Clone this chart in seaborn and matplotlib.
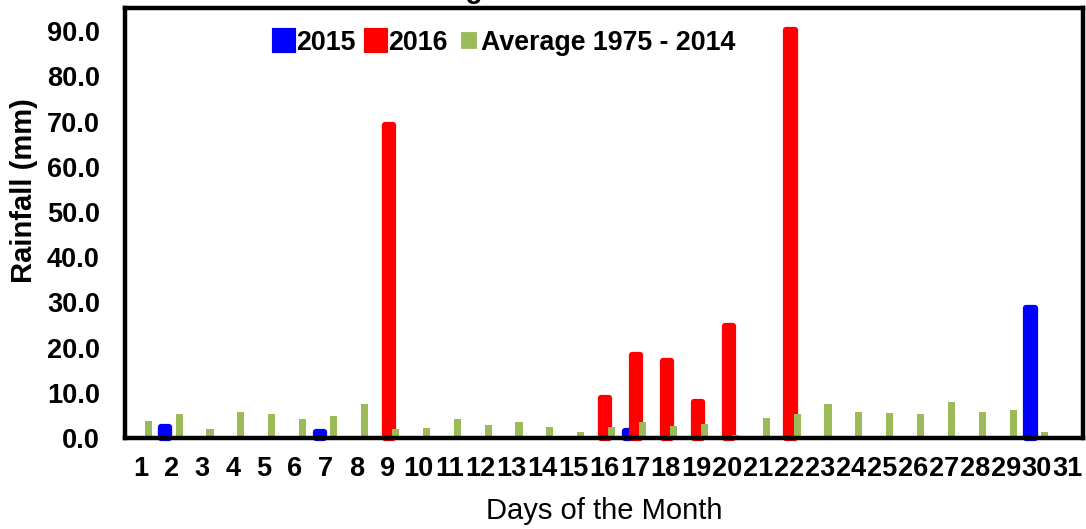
import matplotlib
matplotlib.use("Agg")
import matplotlib.pyplot as plt
from matplotlib.patches import Patch
import numpy as np
import pandas as pd
import seaborn as sns

# data (mm per day)
days = list(range(1, 32))
rain_2015 = [0, 2.4, 0, 0, 0, 0, 1.3, 0, 0, 0, 0, 0, 0, 0, 0, 0,
             1.5, 0, 0, 0, 0, 0, 0, 0, 0, 0, 0, 0, 0, 28.8, 0]
rain_2016 = [0, 0, 0, 0, 0, 0, 0, 0, 69.2, 0, 0, 0, 0, 0, 0, 8.8,
             18.4, 17.0, 7.9, 24.8, 0, 90.3, 0, 0, 0, 0, 0, 0, 0, 0, 0]
avg_1975_2014 = [3.8, 5.2, 2.1, 5.8, 5.3, 4.3, 4.9, 7.6, 2.0, 2.3, 4.3, 2.9,
                 3.6, 2.5, 1.3, 2.5, 3.6, 2.7, 3.2, 0.7, 4.5, 5.2, 7.5, 5.8,
                 5.5, 5.3, 8.0, 5.8, 6.2, 1.3, 0]
series_labels = ["2015", "2016", "Average 1975 - 2014"]
colors = ["#0000FF", "#FF0000", "#9BBB59"]

df = pd.DataFrame({"day": days, "2015": rain_2015, "2016": rain_2016,
                   "avg": avg_1975_2014})

sns.set_style("white")
plt.rcParams["font.family"] = ["Liberation Sans", "DejaVu Sans"]
plt.rcParams["text.color"] = "black"
plt.rcParams["axes.labelcolor"] = "black"
plt.rcParams["xtick.color"] = "black"
plt.rcParams["ytick.color"] = "black"

fig = plt.figure(figsize=(10.86, 5.29), dpi=100)
ax = fig.add_axes([0.1151, 0.172, 0.8821, 0.812])

# 2015 and 2016 overlap, average sits to the right (excel-like overlap)
sns.barplot(x=df["day"] - 0.2, y=df["2015"], native_scale=True, width=0.27,
            color=colors[0], edgecolor=colors[0], linewidth=4.5,
            joinstyle="round", saturation=1, ax=ax, zorder=2)
sns.barplot(x=df["day"] + 0.04, y=df["2016"], native_scale=True, width=0.27,
            color=colors[1], edgecolor=colors[1], linewidth=4.5,
            joinstyle="round", saturation=1, ax=ax, zorder=2)
sns.barplot(x=df["day"] + 0.25, y=df["avg"], native_scale=True, width=0.23,
            color=colors[2], linewidth=0, saturation=1, ax=ax, zorder=3)

# hide empty days
for p in ax.patches:
    if p.get_height() == 0:
        p.set_visible(False)
    p.set_clip_on(False)

ax.set_xlim(0.5, 31.5)
ax.set_ylim(0, 95.0)
ax.set_yticks(np.arange(0, 91, 10))
ax.set_yticklabels([f"{v:.1f}" for v in np.arange(0, 91, 10)],
                   fontsize=19.5, fontweight="bold")
ax.set_xticks(days)
ax.set_xticklabels([str(d) for d in days], fontsize=19.5, fontweight="bold")
ax.set_xticks(np.arange(0.5, 32, 1), minor=True)
ax.tick_params(axis="x", which="major", length=0, pad=13)
ax.tick_params(axis="x", which="minor", length=6, width=1, color="#888888",
               direction="out")
ax.tick_params(axis="y", length=6, width=1, color="#888888",
               direction="out", pad=12)

for s in ax.spines.values():
    s.set_visible(True)
    s.set_linewidth(3.2)
    s.set_color("black")
    s.set_zorder(5)

ax.set_xlabel("Days of the Month", fontsize=21, labelpad=11)
ax.set_ylabel("Rainfall (mm)", fontsize=21, fontweight="bold")
ax.yaxis.set_label_coords(-0.091, 0.575)

handles = [Patch(facecolor=colors[0], edgecolor=colors[0], linewidth=3,
                 joinstyle="round"),
           Patch(facecolor=colors[1], edgecolor=colors[1], linewidth=3,
                 joinstyle="round"),
           Patch(facecolor=colors[2], edgecolor="white", linewidth=3)]
ax.legend(handles, series_labels, ncol=3, frameon=False,
          loc="center left", bbox_to_anchor=(0.13, 0.92),
          prop={"size": 19.3, "weight": "bold"}, handlelength=0.75,
          handleheight=0.8, handletextpad=0.08, columnspacing=0.4)

# title is mostly cut off at the top of the picture
fig.text(0.255, 1.004, "Rainfall for August 2016", fontsize=20,
         fontweight="bold", va="baseline", ha="left")

fig.savefig("out.png", dpi=100)
